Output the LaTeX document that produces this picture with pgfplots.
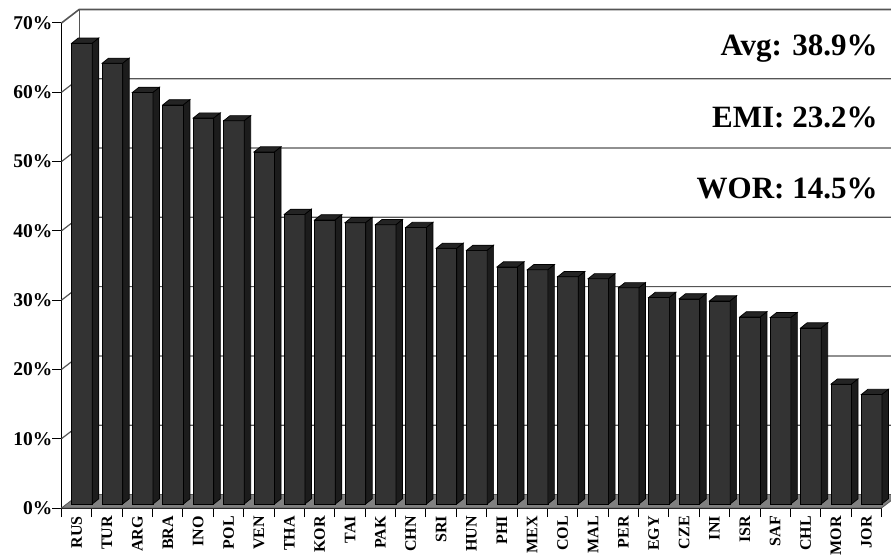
\documentclass[border=0pt]{standalone}
\usepackage{pgfplots}
\usepackage{pgfplotstable}
\pgfplotsset{compat=1.18}
\usepackage{fontspec}
\setmainfont{Liberation Serif}
\definecolor{barfront}{HTML}{333333}
\definecolor{bartop}{HTML}{242424}
\definecolor{barside}{HTML}{1C1C1C}
\definecolor{gridc}{HTML}{555555}
\definecolor{floorc}{HTML}{808080}

\pgfplotstableread{
idx name val
0 RUS 66.5
1 TUR 63.6
2 ARG 59.4
3 BRA 57.6
4 INO 55.7
5 POL 55.3
6 VEN 50.8
7 THA 41.8
8 KOR 41.0
9 TAI 40.6
10 PAK 40.3
11 CHN 39.9
12 SRI 36.9
13 HUN 36.6
14 PHI 34.2
15 MEX 33.8
16 COL 32.8
17 MAL 32.5
18 PER 31.2
19 EGY 29.8
20 CZE 29.6
21 INI 29.3
22 ISR 27.0
23 SAF 26.9
24 CHL 25.4
25 MOR 17.3
26 JOR 15.8
}\datatable

\begin{document}
\begin{tikzpicture}
\useasboundingbox (-61.5pt,-46pt) rectangle (829.5pt,508pt);
\begin{axis}[
  at={(0pt,0pt)}, anchor=south west,
  scale only axis,
  width=820pt, height=485pt,
  xmin=0, xmax=27, ymin=0, ymax=70,
  clip=false,
  axis x line*=bottom, axis y line*=left,
  axis line style={black, line width=1pt, -},
  tick align=outside,
  major tick length=9pt,
  minor tick length=9pt,
  tick style={black, line width=1pt},
  xtick={0.5,1.5,...,26.5},
  xticklabels={RUS,TUR,ARG,BRA,INO,POL,VEN,THA,KOR,TAI,PAK,CHN,SRI,HUN,PHI,MEX,COL,MAL,PER,EGY,CZE,INI,ISR,SAF,CHL,MOR,JOR},
  minor xtick={0,...,27},
  major x tick style={draw=none},
  minor x tick style={black, line width=1pt},
  xticklabel style={rotate=90, anchor=east, inner sep=0pt, xshift=1pt, font=\fontsize{16}{16}\selectfont\bfseries},
  ytick={0,10,...,70},
  yticklabels={0\%,10\%,20\%,30\%,40\%,50\%,60\%,70\%},
  yticklabel style={anchor=east, inner sep=0pt, font=\fontsize{19.5}{19.5}\selectfont\bfseries},
]
\pgfplotsinvokeforeach{10,20,30,40,50,60}{
  \draw[gridc, line width=1.2pt] (axis cs:0,#1) -- (axis cs:0.58,#1+1.95) -- (axis cs:27.58,#1+1.95);
}
\draw[gridc, line width=1.6pt] (axis cs:0,70) -- (axis cs:0.58,71.95) -- (axis cs:27.58,71.95);
\draw[gridc, line width=1.2pt] (axis cs:0.58,1.95) -- (axis cs:0.58,71.95);
\fill[floorc, draw=gridc, line width=0.8pt] (axis cs:0,0) -- (axis cs:27,0) -- (axis cs:27.58,1.95) -- (axis cs:0.58,1.95) -- cycle;
\pgfplotstablegetrowsof{\datatable}
\pgfmathtruncatemacro{\N}{\pgfplotsretval-1}
\pgfplotsforeachungrouped \i in {0,...,\N}{
  \pgfplotstablegetelem{\i}{val}\of\datatable
  \let\v\pgfplotsretval
  \pgfmathsetmacro{\xl}{\i+0.335}
  \pgfmathsetmacro{\xr}{\i+1.015}
  \pgfmathsetmacro{\xlb}{\xl+0.214}
  \pgfmathsetmacro{\xrb}{\xr+0.214}
  \pgfmathsetmacro{\yb}{0.58}
  \pgfmathsetmacro{\yt}{\v+0.58}
  \pgfmathsetmacro{\ybb}{0.58+0.75}
  \pgfmathsetmacro{\ytb}{\yt+0.75}
  \edef\temp{%
    \noexpand\addplot[fill=barfront, draw=black, line width=0.7pt] coordinates {(\xl,\yb) (\xr,\yb) (\xr,\yt) (\xl,\yt)} --cycle;
    \noexpand\addplot[fill=bartop, draw=black, line width=0.7pt] coordinates {(\xl,\yt) (\xr,\yt) (\xrb,\ytb) (\xlb,\ytb)} --cycle;
    \noexpand\addplot[fill=barside, draw=black, line width=0.7pt] coordinates {(\xr,\yb) (\xrb,\ybb) (\xrb,\ytb) (\xr,\yt)} --cycle;
  }%
  \temp
}
\node[anchor=base east, inner sep=0pt, font=\fontsize{31}{31}\selectfont\bfseries] at (axis cs:26.875,65.37) {Avg: 38.9\%};
\node[anchor=base east, inner sep=0pt, font=\fontsize{31}{31}\selectfont\bfseries] at (axis cs:26.875,54.88) {EMI: 23.2\%};
\node[anchor=base east, inner sep=0pt, font=\fontsize{31}{31}\selectfont\bfseries] at (axis cs:26.875,44.63) {WOR: 14.5\%};
\end{axis}
\end{tikzpicture}
\end{document}
